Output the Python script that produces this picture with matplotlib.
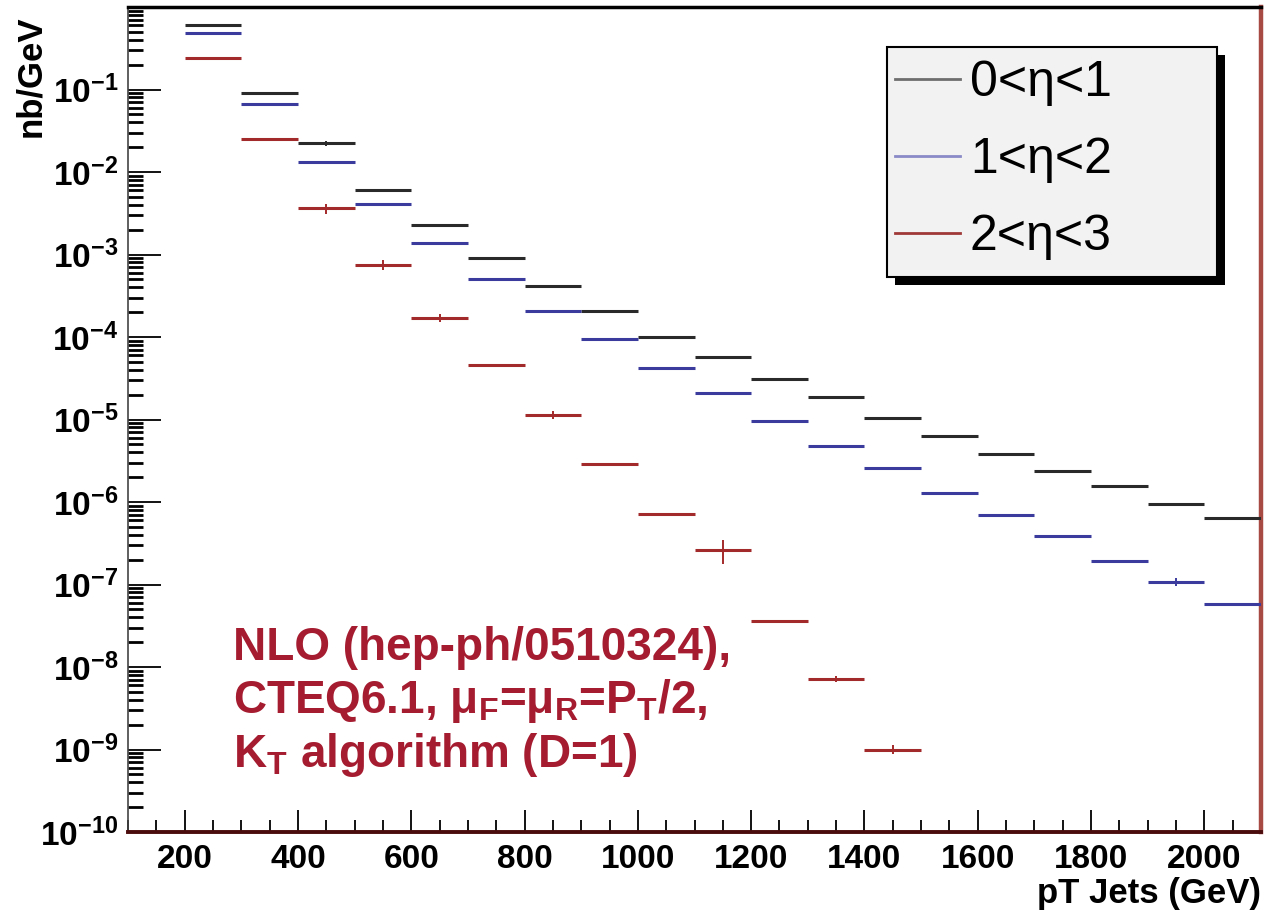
import numpy as np
import matplotlib
matplotlib.use('Agg')
import matplotlib.pyplot as plt
from matplotlib.patches import Rectangle
from matplotlib.lines import Line2D
from matplotlib.ticker import LogLocator, MultipleLocator, NullFormatter

plt.rcParams['font.family'] = ['Liberation Sans', 'DejaVu Sans']
plt.rcParams['mathtext.fontset'] = 'custom'
plt.rcParams['mathtext.rm'] = 'Liberation Sans'
plt.rcParams['mathtext.bf'] = 'Liberation Sans:bold'
plt.rcParams['mathtext.it'] = 'Liberation Sans:italic'

# ---------------- data ----------------
bin_width = 100
bins_eta01 = [200, 300, 400, 500, 600, 700, 800, 900, 1000, 1100, 1200, 1300,
              1400, 1500, 1600, 1700, 1800, 1900, 2000]
xsec_eta01 = [0.60, 0.0895, 0.0222, 6.04e-3, 2.26e-3, 9.08e-4, 4.12e-4, 2.05e-4,
              1.01e-4, 5.65e-5, 3.08e-5, 1.90e-5, 1.04e-5, 6.30e-6, 3.81e-6,
              2.35e-6, 1.57e-6, 9.53e-7, 6.40e-7]
err_eta01 = [0, 0, 1.5e-3, 0, 0, 0, 0, 0, 0, 0, 0, 0, 0, 0, 0, 0, 0, 0, 0]

bins_eta12 = [200, 300, 400, 500, 600, 700, 800, 900, 1000, 1100, 1200, 1300,
              1400, 1500, 1600, 1700, 1800, 1900, 2000]
xsec_eta12 = [0.49, 0.0658, 0.0134, 4.05e-3, 1.37e-3, 5.01e-4, 2.05e-4, 9.33e-5,
              4.22e-5, 2.09e-5, 9.49e-6, 4.72e-6, 2.59e-6, 1.28e-6, 7.02e-7,
              3.87e-7, 1.94e-7, 1.07e-7, 5.82e-8]
err_eta12 = [0, 0, 0, 0, 0, 0, 0, 0, 0, 0, 0, 0, 0, 0, 0, 0, 0, 1.2e-8, 0]

bins_eta23 = [200, 300, 400, 500, 600, 700, 800, 900, 1000, 1100, 1200, 1300, 1400]
xsec_eta23 = [0.242, 0.0248, 3.62e-3, 7.46e-4, 1.71e-4, 4.59e-5, 1.14e-5, 2.86e-6,
              7.10e-7, 2.62e-7, 3.60e-8, 7.20e-9, 1.00e-9]
err_eta23 = [0, 0, 5e-4, 1.0e-4, 2e-5, 0, 1.2e-6, 0, 0, 8.5e-8, 0, 6e-10, 1.3e-10]

series_labels = ['0<η<1', '1<η<2', '2<η<3']
series_colors = ['#2a2a2a', '#3b3b9e', '#a32a2a']
legend_colors = ['#6e6e6e', '#8a8ac8', '#a03838']

x_tick_values = [200, 400, 600, 800, 1000, 1200, 1400, 1600, 1800, 2000]
x_tick_labels = ['200', '400', '600', '800', '1000', '1200', '1400', '1600', '1800', '2000']
y_tick_values = [1e-10, 1e-9, 1e-8, 1e-7, 1e-6, 1e-5, 1e-4, 1e-3, 1e-2, 1e-1]
y_tick_labels = [r'$\mathbf{10^{-10}}$', r'$\mathbf{10^{-9}}$', r'$\mathbf{10^{-8}}$',
                 r'$\mathbf{10^{-7}}$', r'$\mathbf{10^{-6}}$', r'$\mathbf{10^{-5}}$',
                 r'$\mathbf{10^{-4}}$', r'$\mathbf{10^{-3}}$', r'$\mathbf{10^{-2}}$',
                 r'$\mathbf{10^{-1}}$']

note_lines = ['NLO (hep-ph/0510324),',
              r'CTEQ6.1, $\mathbf{\mu_F}$=$\mathbf{\mu_R}$=$\mathbf{P_T}$/2,',
              r'$\mathbf{K_T}$ algorithm (D=1)']
x_label = 'pT Jets (GeV)'
y_label = 'nb/GeV'

# ---------------- figure ----------------
W, H = 1283, 915
fig = plt.figure(figsize=(W / 100, H / 100), dpi=100)
L, R, T, B = 128, 1261, 7, 832
ax = fig.add_axes([L / W, 1 - B / H, (R - L) / W, (B - T) / H])
ax.set_yscale('log')
ax.set_xlim(100, 2100)
ax.set_ylim(1e-10, 1.0)

series = [(bins_eta01, xsec_eta01, err_eta01),
          (bins_eta12, xsec_eta12, err_eta12),
          (bins_eta23, xsec_eta23, err_eta23)]
for (lows, vals, errs), color in zip(series, series_colors):
    lows = np.asarray(lows, float)
    vals = np.asarray(vals, float)
    errs = np.asarray(errs, float)
    centers = lows + bin_width / 2
    ax.errorbar(centers, vals, xerr=bin_width / 2, fmt='none', ecolor=color,
                elinewidth=2.2, capsize=0, zorder=3)
    m = errs > 0
    ax.errorbar(centers[m], vals[m], yerr=errs[m], fmt='none', ecolor=color,
                elinewidth=1.4, capsize=0, zorder=3)

# ticks
ax.set_yticks(y_tick_values, y_tick_labels)
ax.yaxis.set_minor_locator(LogLocator(base=10, subs=np.arange(2, 10), numticks=100))
ax.yaxis.set_minor_formatter(NullFormatter())
ax.tick_params(axis='y', which='major', direction='in', length=24, width=1.3,
               labelsize=24, pad=7, right=False)
ax.tick_params(axis='y', which='minor', direction='in', length=11, width=2.0, right=False)

ax.set_xticks(x_tick_values, x_tick_labels)
ax.xaxis.set_minor_locator(MultipleLocator(50))
ax.tick_params(axis='x', which='major', direction='in', length=16, width=1.3,
               labelsize=24, pad=9, top=False)
ax.tick_params(axis='x', which='minor', direction='in', length=9, width=1.3, top=False)
for lab in ax.get_xticklabels():
    lab.set_fontweight('bold')

# spines
ax.spines['top'].set_color('black')
ax.spines['top'].set_linewidth(2.5)
ax.spines['left'].set_color('#444444')
ax.spines['left'].set_linewidth(1.2)
ax.spines['bottom'].set_color('#4a0c0c')
ax.spines['bottom'].set_linewidth(2.8)
ax.spines['right'].set_color('#a84a44')
ax.spines['right'].set_linewidth(3.2)

# axis labels
ax.set_xlabel(x_label, fontsize=25, fontweight='bold', loc='right')
ax.xaxis.set_label_coords(1.0, -0.055)
ax.set_ylabel(y_label, fontsize=25, fontweight='bold', loc='top')
ax.yaxis.set_label_coords(-0.071, 0.99)

# annotation
note_y = [0.2085, 0.1442, 0.0788]
for txt, yy in zip(note_lines, note_y):
    ax.text((233 - L) / (R - L), yy, txt, transform=ax.transAxes, fontsize=33,
            fontweight='bold', color='#a51c30', va='baseline', ha='left', zorder=4)

# legend box with shadow
def ax_x(px):
    return (px - L) / (R - L)

def ax_y(py):
    return (B - py) / (B - T)

bx0, bx1, by_top, by_bot = 887, 1217, 47, 277
shadow = Rectangle((ax_x(bx0 + 8), ax_y(by_bot + 8)), ax_x(bx1) - ax_x(bx0),
                   ax_y(by_top) - ax_y(by_bot), transform=ax.transAxes,
                   facecolor='black', edgecolor='none', zorder=5, clip_on=False)
box = Rectangle((ax_x(bx0), ax_y(by_bot)), ax_x(bx1) - ax_x(bx0),
                ax_y(by_top) - ax_y(by_bot), transform=ax.transAxes,
                facecolor='#f2f2f2', edgecolor='black', linewidth=1.5, zorder=6,
                clip_on=False)
ax.add_patch(shadow)
ax.add_patch(box)

handles = [Line2D([], [], color=c, lw=2.0) for c in legend_colors]
leg = ax.legend(handles, series_labels, loc='upper left',
                bbox_to_anchor=(ax_x(895), ax_y(60)), borderaxespad=0, borderpad=0,
                frameon=False, fontsize=36, handlelength=1.3, handletextpad=0.2,
                labelspacing=0.62)
leg.set_zorder(7)

fig.savefig('out.png', dpi=100, facecolor='white')
